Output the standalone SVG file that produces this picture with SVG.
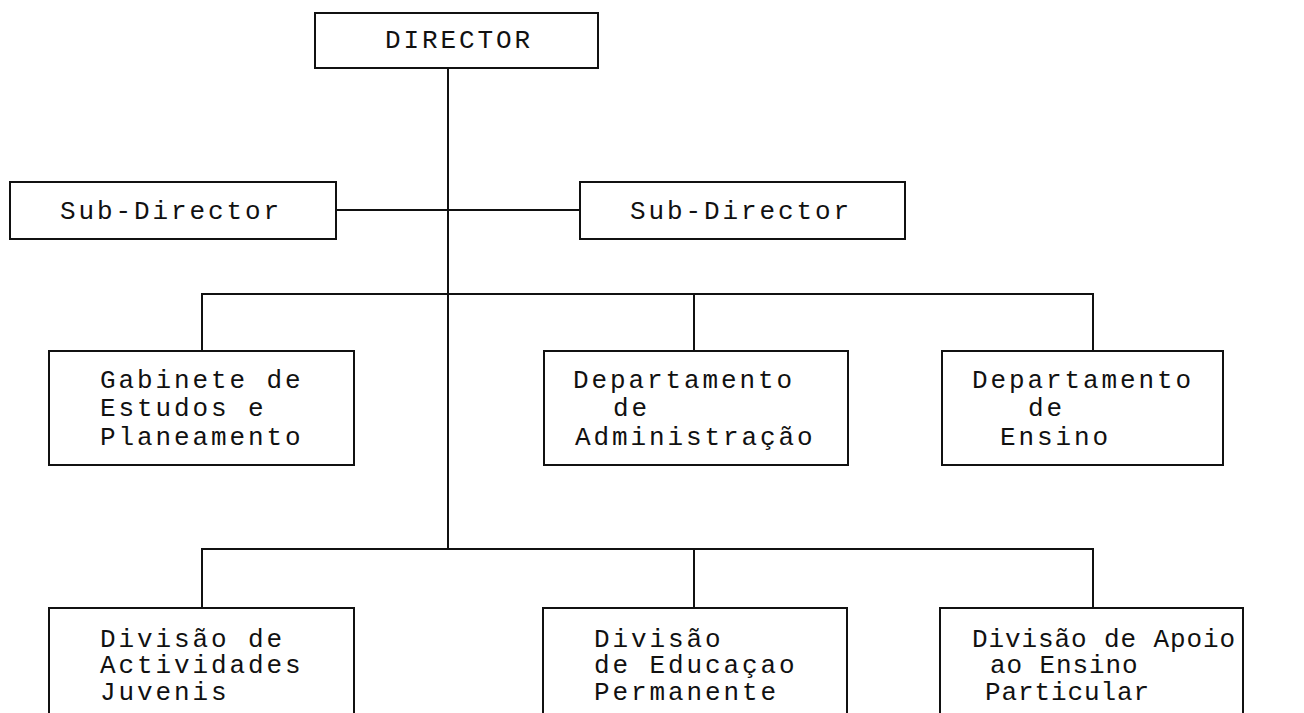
<svg xmlns="http://www.w3.org/2000/svg" width="1304" height="713" viewBox="0 0 1304 713">
<style>
.box{fill:none;stroke:#111;stroke-width:2}
.ln{fill:none;stroke:#111;stroke-width:2}
text{font-family:"Liberation Mono","DejaVu Sans Mono",monospace;font-size:26px;letter-spacing:2.9px;fill:#111}
.tight{letter-spacing:0.9px}
</style>
<rect width="1304" height="713" fill="#fff"/>
<g id="connectors">
<line class="ln" x1="448" y1="68" x2="448" y2="549"/>
<line class="ln" x1="336" y1="210" x2="580" y2="210"/>
<polyline class="ln" points="202,351 202,294 1093,294 1093,351"/>
<line class="ln" x1="694" y1="294" x2="694" y2="351"/>
<polyline class="ln" points="202,608 202,549 1093,549 1093,608"/>
<line class="ln" x1="694" y1="549" x2="694" y2="608"/>
</g>
<g id="director">
<rect class="box" x="315" y="13" width="283" height="55"/>
<text x="385" y="48">DIRECTOR</text>
</g>
<g id="subdirector-left">
<rect class="box" x="10" y="182" width="326" height="57"/>
<text x="60" y="219">Sub-Director</text>
</g>
<g id="subdirector-right">
<rect class="box" x="580" y="182" width="325" height="57"/>
<text x="630" y="219">Sub-Director</text>
</g>
<g id="gabinete">
<rect class="box" x="49" y="351" width="305" height="114"/>
<text x="100" y="388">Gabinete de</text>
<text x="100" y="416">Estudos e</text>
<text x="100" y="445">Planeamento</text>
</g>
<g id="dep-administracao">
<rect class="box" x="544" y="351" width="304" height="114"/>
<text x="573" y="388">Departamento</text>
<text x="613" y="416">de</text>
<text x="575" y="445">Administração</text>
</g>
<g id="dep-ensino">
<rect class="box" x="942" y="351" width="281" height="114"/>
<text x="972" y="388">Departamento</text>
<text x="1028" y="416">de</text>
<text x="1000" y="445">Ensino</text>
</g>
<g id="div-actividades">
<path class="box" d="M49,714 V608 H354 V714"/>
<text x="100" y="647">Divisão de</text>
<text x="100" y="673">Actividades</text>
<text x="100" y="700">Juvenis</text>
</g>
<g id="div-educacao">
<path class="box" d="M543,714 V608 H847 V714"/>
<text x="594" y="647">Divisão</text>
<text x="594" y="673">de Educaçao</text>
<text x="594" y="700">Permanente</text>
</g>
<g id="div-apoio">
<path class="box" d="M940,714 V608 H1243 V714"/>
<text class="tight" x="972" y="647">Divisão de Apoio</text>
<text class="tight" x="990" y="673">ao Ensino</text>
<text class="tight" x="985" y="700">Particular</text>
</g>
</svg>
